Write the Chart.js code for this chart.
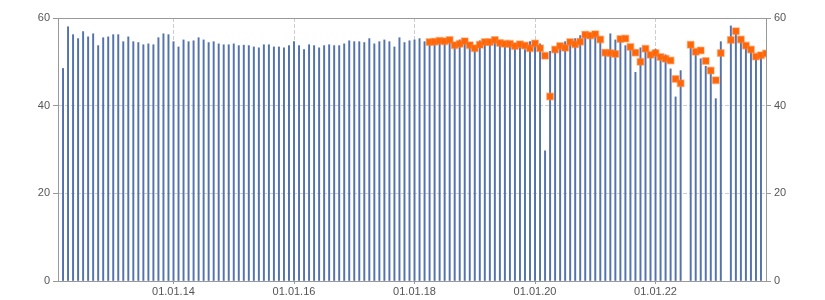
<!DOCTYPE html>
<html><head><meta charset="utf-8">
<script src="https://cdn.jsdelivr.net/npm/chart.js@4/dist/chart.umd.min.js"></script>
<style>html,body{margin:0;padding:0;background:#fff;}#c{display:block;}</style>
</head><body>
<canvas id="c" width="825" height="300"></canvas>
<script>
// x = months since Jan 2012 (0 = Jan 2012)
const firstBarMonth = 2; // Mar 2012
const barValues = [
  48.5, 58.0, 56.2, 55.3, 56.9, 55.7, 56.4, 53.7, 55.5, 55.7, 56.2, 56.2, 54.6, 55.7, 54.6, 54.4, 53.9, 54.1, 53.9, 55.5, 56.4, 56.2, 54.6,
  53.4, 55.0, 54.6, 54.8, 55.5, 55.0, 54.4, 54.6, 54.1, 53.9, 53.9, 54.1, 53.7, 53.8, 53.7, 53.4, 53.2, 53.9, 53.9, 53.4, 53.4, 53.2, 53.7, 54.6,
  53.7, 52.8, 53.9, 53.7, 53.2, 53.7, 53.9, 53.7, 53.7, 54.1, 54.8, 54.6, 54.6, 54.4, 55.3, 54.1, 54.6, 55.0, 54.6, 53.4, 55.5, 54.4, 54.8, 55.0,
  55.3, 54.6, 54.3, 54.4, 54.6, 54.5, 54.8, 53.6, 55.0, 54.5, 54.1, 52.9, 54.8, 54.3, 54.3, 54.8, 54.1, 53.9, 53.9, 53.4, 53.8, 52.8, 54.6, 54.0,
  54.1, 29.7, 52.4, 52.6, 53.4, 54.6, 54.3, 55.3, 56.0, 56.0, 56.4, 56.1, 54.9, 51.9, 56.4, 55.0, 55.0, 53.7, 53.2, 47.6, 53.2, 52.8, 51.9, 52.9,
  50.9, 51.6, 48.4, 42.0, 48.0, null, 53.7, 52.1, 50.7, 49.0, 48.6, 41.6, 54.6, null, 58.2, 56.8, 54.9, 53.5, 52.6, 51.0, 51.3
];
const firstPointMonth = 75; // Apr 2018
const pointValues = [
  54.5, 54.6, 54.8, 54.7, 55.0, 53.8, 54.1, 54.7, 53.8, 53.1, 53.9, 54.5, 54.5, 55.0, 54.3, 54.1, 54.1, 53.6, 54.0, 53.7, 53.1, 54.2,
  53.1, 51.4, 42.1, 52.8, 53.6, 53.2, 54.5, 54.0, 54.6, 56.2, 56.0, 56.3, 55.1, 52.1, 52.0, 51.8, 55.2, 55.3, 53.4, 52.1, 50.0, 53.0, 51.6, 52.0,
  51.1, 50.7, 50.3, 46.1, 45.1, null, 53.9, 52.3, 52.6, 50.2, 48.0, 45.8, 52.0, null, 55.0, 57.0, 55.1, 53.7, 52.8, 51.2, 51.5, 51.9
];
const tickMonths = [24, 48, 72, 96, 120];
const tickLabels = ['01.01.14', '01.01.16', '01.01.18', '01.01.20', '01.01.22'];
const yTicks = [0, 20, 40, 60];
const axisMin = 1, axisMax = 142;

const barData = barValues.map((v, i) => ({x: firstBarMonth + i, y: v}));
const pointData = pointValues.map((v, i) => ({x: firstPointMonth + i, y: v}));

const FONT = {family: 'Liberation Sans', size: 11};
const GRID = '#cdcdcd', AXIS = '#999999', TXT = '#555555';

const frame = {
  id: 'frame',
  afterDraw(chart) {
    const {ctx, chartArea: a} = chart;
    ctx.save();
    ctx.strokeStyle = AXIS; ctx.lineWidth = 1;
    ctx.beginPath();
    ctx.moveTo(a.left, Math.round(a.top) + 0.5);
    ctx.lineTo(a.right, Math.round(a.top) + 0.5);
    ctx.stroke();
    ctx.restore();
  }
};

new Chart(document.getElementById('c'), {
  type: 'bar',
  data: {datasets: [
    {type: 'line', data: pointData, showLine: false, pointStyle: 'rect', pointRadius: 4.6,
     pointBackgroundColor: '#ff6608', pointBorderColor: 'rgba(255,130,50,0.45)', pointBorderWidth: 1.5,
     order: 0, xAxisID: 'x', yAxisID: 'y'},
    {type: 'bar', data: barData, backgroundColor: '#5473ad', barThickness: 1.3, order: 1, xAxisID: 'x', yAxisID: 'y'}
  ]},
  options: {
    responsive: false, animation: false, devicePixelRatio: 1,
    layout: {padding: {top: 18, left: 0, right: 0, bottom: 0}},
    plugins: {legend: {display: false}, tooltip: {enabled: false}},
    scales: {
      x: {type: 'linear', position: 'bottom', min: axisMin, max: axisMax, offset: false,
        afterBuildTicks: s => { s.ticks = tickMonths.map(v => ({value: v})); },
        afterFit: s => { s.height = 19; },
        ticks: {callback: v => tickLabels[tickMonths.indexOf(v)], autoSkip: false, maxRotation: 0, padding: 1, color: TXT, font: FONT},
        grid: {offset: false, color: GRID, tickColor: AXIS, tickLength: 3, lineWidth: 1},
        border: {color: AXIS, dash: [4, 2]}
      },
      y: {position: 'left', min: 0, max: 60,
        afterBuildTicks: s => { s.ticks = yTicks.map(v => ({value: v})); },
        afterFit: s => { s.width = 58; },
        ticks: {padding: 3, color: TXT, font: FONT},
        grid: {color: c => (c.tick && (c.tick.value === 20 || c.tick.value === 40)) ? GRID : 'rgba(0,0,0,0)',
               tickColor: AXIS, tickLength: 5},
        border: {color: AXIS, dash: [4, 2]}
      },
      y2: {position: 'right', min: 0, max: 60,
        afterBuildTicks: s => { s.ticks = yTicks.map(v => ({value: v})); },
        afterFit: s => { s.width = 59; },
        ticks: {padding: 3, color: TXT, font: FONT},
        grid: {drawOnChartArea: false, tickColor: AXIS, tickLength: 5},
        border: {color: AXIS}
      }
    }
  },
  plugins: [frame]
});
</script>
</body></html>
